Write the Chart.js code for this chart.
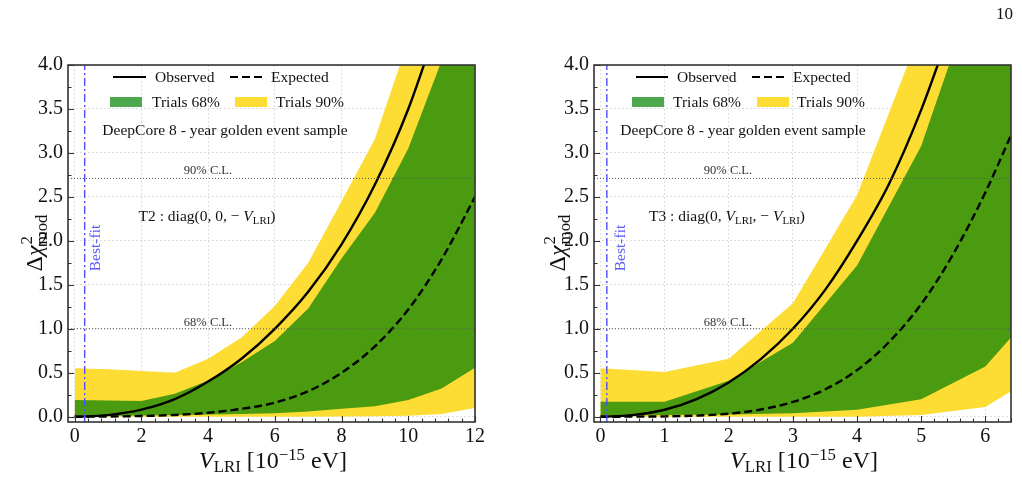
<!DOCTYPE html>
<html>
<head>
<meta charset="utf-8">
<script src="https://cdn.jsdelivr.net/npm/chart.js@4.4.1/dist/chart.umd.min.js"></script>
<style>
  body { margin: 0; background: #fff; }
  #page { position: relative; width: 1022px; height: 480px; overflow: hidden;
          font-family: "Liberation Serif", "DejaVu Serif", serif; color: #111; }
  canvas { position: absolute; top: 0; }
  .t { position: absolute; white-space: nowrap; line-height: 1; }
  .lc { transform: translateY(-50%); }
  .cc { transform: translate(-50%, -50%); }
  .rot { transform: translate(-50%, -50%) rotate(-90deg); }
  sub { font-size: 70%; vertical-align: -0.25em; line-height: 0; }
  sup { font-size: 70%; vertical-align: 0.45em; line-height: 0; }
  .leg, .note { font-size: 15.5px; }
  .cl { font-size: 12.5px; color: #333; }
  .best { font-size: 15.5px; color: #5a5aff; }
  .axt { font-size: 24px; }
  .ss { display: inline-block; vertical-align: -0.32em; font-size: 70%; line-height: 0.9; text-align: left; margin-left: 1px; }
  .ss span { display: block; }
  .sw { position: absolute; }
  .solid { height: 2.2px; background: #000; }
  .dash { height: 2.2px; background: repeating-linear-gradient(90deg, #000 0 8px, transparent 8px 12px); }
  .patch { height: 10px; }
</style>
</head>
<body>
<div id="page">
  <canvas id="chartT2" width="500" height="480" style="left:0"></canvas>
  <canvas id="chartT3" width="502" height="480" style="left:520px"></canvas>

  <div class="t" style="left:996px;top:5px;font-size:17px">10</div>

  <!-- painel T2 -->
  <div class="sw solid" style="left:113px;top:76px;width:33px"></div>
  <div class="t leg lc" style="left:155px;top:77px">Observed</div>
  <div class="sw dash" style="left:230px;top:76px;width:32px"></div>
  <div class="t leg lc" style="left:271px;top:77px">Expected</div>
  <div class="sw patch" style="left:110px;top:97px;width:32px;background:#4da74d"></div>
  <div class="t leg lc" style="left:152px;top:102px">Trials 68%</div>
  <div class="sw patch" style="left:235px;top:97px;width:32px;background:#fddc33"></div>
  <div class="t leg lc" style="left:276px;top:102px">Trials 90%</div>
  <div class="t note cc" style="left:225px;top:130px">DeepCore 8 - year golden event sample</div>
  <div class="t cl cc" style="left:208px;top:170px">90% C.L.</div>
  <div class="t cl cc" style="left:208px;top:322px">68% C.L.</div>
  <div class="t note cc" style="left:207px;top:216px">T2 : diag(0, 0, − <i>V</i><sub>LRI</sub>)</div>
  <div class="t best rot" style="left:95px;top:248px">Best-fit</div>
  <div class="t axt rot" style="left:34px;top:243px">Δ<i>χ</i><span class="ss"><span>2</span><span>mod</span></span></div>
  <div class="t axt cc" style="left:273px;top:460px"><i>V</i><sub>LRI</sub> [10<sup>−15</sup> eV]</div>

  <!-- painel T3 -->
  <div class="sw solid" style="left:636px;top:76px;width:32px"></div>
  <div class="t leg lc" style="left:677px;top:77px">Observed</div>
  <div class="sw dash" style="left:752px;top:76px;width:32px"></div>
  <div class="t leg lc" style="left:793px;top:77px">Expected</div>
  <div class="sw patch" style="left:632px;top:97px;width:32px;background:#4da74d"></div>
  <div class="t leg lc" style="left:673px;top:102px">Trials 68%</div>
  <div class="sw patch" style="left:757px;top:97px;width:32px;background:#fddc33"></div>
  <div class="t leg lc" style="left:797px;top:102px">Trials 90%</div>
  <div class="t note cc" style="left:743px;top:130px">DeepCore 8 - year golden event sample</div>
  <div class="t cl cc" style="left:728px;top:170px">90% C.L.</div>
  <div class="t cl cc" style="left:728px;top:322px">68% C.L.</div>
  <div class="t note cc" style="left:727px;top:216px">T3 : diag(0, <i>V</i><sub>LRI</sub>, − <i>V</i><sub>LRI</sub>)</div>
  <div class="t best rot" style="left:620px;top:248px">Best-fit</div>
  <div class="t axt rot" style="left:557px;top:243px">Δ<i>χ</i><span class="ss"><span>2</span><span>mod</span></span></div>
  <div class="t axt cc" style="left:804px;top:460px"><i>V</i><sub>LRI</sub> [10<sup>−15</sup> eV]</div>
</div>

<script>
// Eixos comuns
const Y_MIN = -0.06;
const Y_MAX = 4.0;
const Y_TICKS = [0, 0.5, 1.0, 1.5, 2.0, 2.5, 3.0, 3.5, 4.0];
const CL_LEVELS = [1.0, 2.71];

// T2 : diag(0, 0, -V)
const T2_X_TICKS = [0, 2, 4, 6, 8, 10, 12];
const T2_BEST_FIT = 0.3;
const T2_BAND_X = [0, 1, 2, 3, 4, 5, 6, 7, 8, 9, 10, 11, 12];
const T2_YELLOW_HI = [0.55, 0.54, 0.52, 0.50, 0.66, 0.90, 1.26, 1.75, 2.45, 3.16, 4.28, 5.5, 7.0];
const T2_YELLOW_LO = [0, 0, 0, 0, 0, 0, 0, 0, 0.002, 0.005, 0.01, 0.03, 0.10];
const T2_GREEN_HI = [0.19, 0.185, 0.18, 0.26, 0.41, 0.62, 0.86, 1.23, 1.80, 2.32, 3.05, 4.05, 5.2];
const T2_GREEN_LO = [0.01, 0.012, 0.015, 0.02, 0.025, 0.03, 0.04, 0.06, 0.09, 0.12, 0.19, 0.32, 0.556];
const T2_OBS_X = [0, 1, 2, 3, 4, 5, 6, 7, 8, 9, 10, 11];
const T2_OBSERVED = [0, 0.018, 0.08, 0.20, 0.40, 0.66, 1.0, 1.42, 1.96, 2.64, 3.5, 4.6];
const T2_EXP_X = [0, 1, 2, 3, 4, 5, 6, 7, 8, 9, 10, 11, 12];
const T2_EXPECTED = [0, 0.002, 0.008, 0.02, 0.045, 0.09, 0.16, 0.29, 0.50, 0.80, 1.22, 1.79, 2.5];

// T3 : diag(0, V, -V)
const T3_X_TICKS = [0, 1, 2, 3, 4, 5, 6];
const T3_BEST_FIT = 0.1;
const T3_BAND_X = [0, 1, 2, 3, 4, 5, 6, 6.4];
const T3_YELLOW_HI = [0.55, 0.51, 0.66, 1.29, 2.52, 4.4, 6.0, 6.8];
const T3_YELLOW_LO = [0, 0, 0, 0, 0, 0.02, 0.11, 0.29];
const T3_GREEN_HI = [0.17, 0.17, 0.41, 0.84, 1.72, 3.08, 5.2, 6.0];
const T3_GREEN_LO = [0.01, 0.02, 0.025, 0.04, 0.08, 0.20, 0.57, 0.90];
const T3_OBS_X = [0, 0.5, 1, 1.5, 2, 2.5, 3, 3.5, 4, 4.5, 5, 5.5];
const T3_OBSERVED = [0, 0.018, 0.079, 0.2, 0.39, 0.655, 1.0, 1.44, 2.0, 2.65, 3.49, 4.5];
const T3_EXP_X = [0, 0.5, 1, 1.5, 2, 2.5, 3, 3.5, 4, 4.5, 5, 5.5, 6, 6.4];
const T3_EXPECTED = [0, 0.001, 0.004, 0.013, 0.034, 0.082, 0.168, 0.31, 0.53, 0.85, 1.28, 1.85, 2.55, 3.2];

const GREEN = '#4a9b10';
const YELLOW = '#fddc33';
const FONT = 'Liberation Serif';

function pts(xs, ys) {
    return xs.map((x, i) => ({ x: x, y: ys[i] }));
}

// Moldura e marcas para dentro (estilo matplotlib)
const frameTicks = {
    id: 'frameTicks',
    afterDatasetsDraw(chart, args, opts) {
        const { ctx, chartArea: a, scales: { x, y } } = chart;
        ctx.save();
        ctx.strokeStyle = '#333';
        ctx.lineWidth = 1.1;
        ctx.beginPath();
        for (let i = 0; i * opts.xMinor <= x.max + 1e-9; i++) {
            const px = Math.round(x.getPixelForValue(i * opts.xMinor)) + 0.5;
            const len = i % opts.xEvery === 0 ? 6 : 3.5;
            ctx.moveTo(px, a.bottom);
            ctx.lineTo(px, a.bottom - len);
        }
        for (let i = 0; i * opts.yMinor <= y.max + 1e-9; i++) {
            const py = Math.round(y.getPixelForValue(i * opts.yMinor)) + 0.5;
            const len = i % opts.yEvery === 0 ? 6 : 3.5;
            ctx.moveTo(a.left, py);
            ctx.lineTo(a.left + len, py);
        }
        ctx.stroke();
        ctx.lineWidth = 1.6;
        ctx.strokeRect(a.left, a.top, a.right - a.left, a.bottom - a.top);
        ctx.restore();
    }
};

function hLine(p, level) {
    return {
        data: [{ x: p.xMin, y: level }, { x: p.xMax, y: level }],
        borderColor: '#555', borderWidth: 1, borderDash: [1, 2],
        pointRadius: 0, fill: false
    };
}

function createPanel(canvasId, p) {
    return new Chart(document.getElementById(canvasId), {
        type: 'line',
        data: {
            datasets: [
                {
                    data: [{ x: p.bestFit, y: Y_MIN }, { x: p.bestFit, y: Y_MAX }],
                    borderColor: '#4d4dff', borderWidth: 1.4, borderDash: [8, 3, 2, 3],
                    pointRadius: 0, fill: false
                },
                hLine(p, CL_LEVELS[1]),
                hLine(p, CL_LEVELS[0]),
                {
                    data: pts(p.obsX, p.observed),
                    borderColor: '#000', borderWidth: 2.4, cubicInterpolationMode: 'monotone',
                    pointRadius: 0, fill: false
                },
                {
                    data: pts(p.expX, p.expected),
                    borderColor: '#000', borderWidth: 2.4, borderDash: [8, 4],
                    cubicInterpolationMode: 'monotone', pointRadius: 0, fill: false
                },
                { data: pts(p.bandX, p.greenHi), borderColor: 'transparent', backgroundColor: GREEN, fill: '+1', pointRadius: 0 },
                { data: pts(p.bandX, p.greenLo), borderColor: 'transparent', pointRadius: 0, fill: false },
                { data: pts(p.bandX, p.yellowHi), borderColor: 'transparent', backgroundColor: YELLOW, fill: '+1', pointRadius: 0 },
                { data: pts(p.bandX, p.yellowLo), borderColor: 'transparent', pointRadius: 0, fill: false }
            ]
        },
        options: {
            responsive: false,
            animation: false,
            layout: { padding: { top: 65, right: p.padRight, bottom: 0, left: 0 } },
            plugins: {
                legend: { display: false },
                tooltip: { enabled: false },
                frameTicks: { xMinor: p.xMinor, xEvery: 5, yMinor: 0.25, yEvery: 2 }
            },
            scales: {
                x: {
                    type: 'linear', min: p.xMin, max: p.xMax,
                    afterBuildTicks: s => { s.ticks = p.xTicks.map(v => ({ value: v })); },
                    afterFit: s => { s.height = 58; s.paddingLeft = 0; s.paddingRight = 0; },
                    grid: { color: '#d6d6d6', lineWidth: 0.8, drawTicks: false },
                    border: { display: false, dash: [2, 2] },
                    ticks: {
                        font: { family: FONT, size: 20 }, color: '#111', padding: 3,
                        maxRotation: 0, autoSkip: false, callback: v => String(v)
                    }
                },
                y: {
                    min: Y_MIN, max: Y_MAX,
                    afterBuildTicks: s => { s.ticks = Y_TICKS.map(v => ({ value: v })); },
                    afterFit: s => { s.width = p.axisWidth; s.paddingTop = 0; s.paddingBottom = 0; },
                    grid: { color: '#d6d6d6', lineWidth: 0.8, drawTicks: false },
                    border: { display: false, dash: [2, 2] },
                    ticks: {
                        font: { family: FONT, size: 20 }, color: '#111', padding: 5,
                        autoSkip: false, callback: v => v.toFixed(1)
                    }
                }
            }
        },
        plugins: [frameTicks]
    });
}

createPanel('chartT2', {
    xMin: -0.2, xMax: 12, xTicks: T2_X_TICKS, xMinor: 0.4, axisWidth: 68, padRight: 25,
    bestFit: T2_BEST_FIT,
    bandX: T2_BAND_X, yellowHi: T2_YELLOW_HI, yellowLo: T2_YELLOW_LO,
    greenHi: T2_GREEN_HI, greenLo: T2_GREEN_LO,
    obsX: T2_OBS_X, observed: T2_OBSERVED, expX: T2_EXP_X, expected: T2_EXPECTED
});

createPanel('chartT3', {
    xMin: -0.1, xMax: 6.4, xTicks: T3_X_TICKS, xMinor: 0.2, axisWidth: 74, padRight: 11,
    bestFit: T3_BEST_FIT,
    bandX: T3_BAND_X, yellowHi: T3_YELLOW_HI, yellowLo: T3_YELLOW_LO,
    greenHi: T3_GREEN_HI, greenLo: T3_GREEN_LO,
    obsX: T3_OBS_X, observed: T3_OBSERVED, expX: T3_EXP_X, expected: T3_EXPECTED
});
</script>
</body>
</html>
